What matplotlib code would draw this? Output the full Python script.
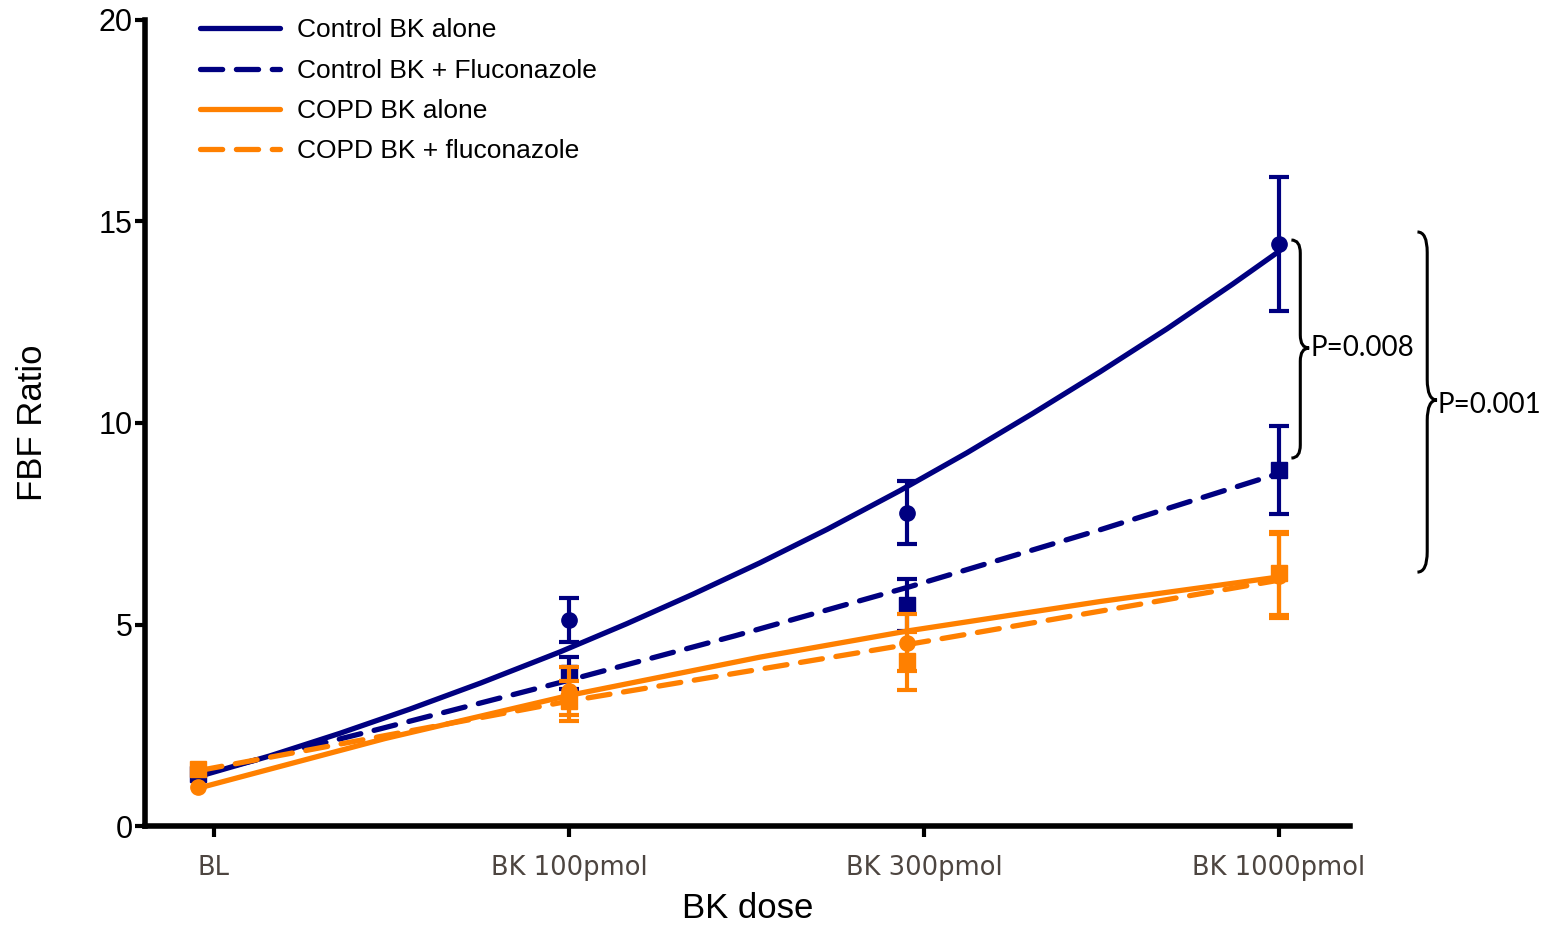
import numpy as np
import matplotlib.pyplot as plt
from matplotlib.path import Path
from matplotlib.patches import PathPatch

plt.rcParams['font.family'] = ['Liberation Sans', 'DejaVu Sans']

doses = ["BL", "BK 100pmol", "BK 300pmol", "BK 1000pmol"]
tick_x = [0, 1, 2, 3]
# the points in the source sit a little left of the BL and 300 ticks
dose_x = [-0.045, 1.0, 1.952, 3.0]

ctrl_alone = [1.25, 5.11, 7.77, 14.44]
ctrl_alone_sem = [0.0, 0.55, 0.78, 1.66]
ctrl_fluc = [1.30, 3.80, 5.48, 8.83]
ctrl_fluc_sem = [0.0, 0.40, 0.65, 1.10]
copd_alone = [0.97, 3.35, 4.55, 6.20]
copd_alone_sem = [0.0, 0.60, 0.70, 1.05]
copd_fluc = [1.41, 3.10, 4.10, 6.27]
copd_fluc_sem = [0.0, 0.50, 0.72, 1.03]

# fitted curves (x in tick units)
fit_x_ctrl_alone = [-0.039, 0.158, 0.355, 0.552, 0.752, 0.975, 1.163, 1.349,
                    1.538, 1.727, 1.932, 2.121, 2.307, 2.496, 2.685, 2.870, 3.0]
fit_ctrl_alone = [1.24, 1.74, 2.30, 2.90, 3.55, 4.32, 5.02, 5.75,
                  6.53, 7.36, 8.32, 9.26, 10.24, 11.27, 12.34, 13.45, 14.26]
fit_x_ctrl_fluc = [-0.039, 0.468, 0.975, 1.468, 1.961, 2.496, 3.0]
fit_ctrl_fluc = [1.29, 2.41, 3.56, 4.72, 5.94, 7.35, 8.75]
fit_x_copd_alone = [-0.039, 0.482, 1.0, 1.538, 1.961, 2.496, 3.0]
fit_copd_alone = [0.95, 2.17, 3.24, 4.19, 4.85, 5.57, 6.18]
fit_x_copd_fluc = [-0.039, 1.0, 1.952, 3.0]
fit_copd_fluc = [1.38, 3.10, 4.50, 6.10]

p_labels = ["P=0.008", "P=0.001"]

navy = '#000080'
orange = '#ff8000'
lw = 3.8

fig = plt.figure(figsize=(15.49, 9.26), dpi=100)
ax = fig.add_axes([145/1549, 100/926, 1205/1549, 806/926])

series = [
    (fit_x_ctrl_alone, fit_ctrl_alone, ctrl_alone, ctrl_alone_sem, navy, '-', 'o', "Control BK alone"),
    (fit_x_ctrl_fluc, fit_ctrl_fluc, ctrl_fluc, ctrl_fluc_sem, navy, '--', 's', "Control BK + Fluconazole"),
    (fit_x_copd_alone, fit_copd_alone, copd_alone, copd_alone_sem, orange, '-', 'o', "COPD BK alone"),
    (fit_x_copd_fluc, fit_copd_fluc, copd_fluc, copd_fluc_sem, orange, '--', 's', "COPD BK + fluconazole"),
]

z = 2
for fx, fit, vals, sem, col, ls, mk, lab in series:
    ln, = ax.plot(fx, fit, color=col, lw=lw, ls=ls, label=lab, zorder=z,
                  solid_capstyle='round', dash_capstyle='round',
                  solid_joinstyle='round')
    if ls == '--':
        ln.set_dashes((4.2, 2.6))
    ax.errorbar(dose_x[1:], vals[1:], yerr=sem[1:], fmt='none', ecolor=col,
                elinewidth=3, capsize=7, capthick=3, zorder=z)
    ax.plot(dose_x, vals, ls='none', marker=mk, color=col, ms=11, zorder=z + 0.5)
    z += 1

ax.set_xlim(-0.194, 3.2)
ax.set_ylim(0, 20)
ax.set_xticks(tick_x)
ax.set_xticklabels(doses, fontsize=18.5, color='#4d4540', family='DejaVu Sans')
ax.set_yticks([0, 5, 10, 15, 20])
ax.tick_params(axis='y', labelsize=22, width=3, length=7, pad=2)
ax.tick_params(axis='x', width=3, length=8, pad=13)

for s in ['top', 'right']:
    ax.spines[s].set_visible(False)
for s in ['left', 'bottom']:
    ax.spines[s].set_linewidth(4)

ax.set_xlabel("BK dose", fontsize=25)
ax.xaxis.set_label_coords(0.5, -0.082)
ax.set_ylabel("FBF Ratio", fontsize=25)
ax.yaxis.set_label_coords(-0.08, 0.5)

ax.legend(loc='upper left', bbox_to_anchor=(0.046, 1.002), frameon=False,
          fontsize=19, handlelength=3.0, handletextpad=0.65, labelspacing=0.62,
          borderpad=0, borderaxespad=0)


def brace(ax, x0, x1, y_lo, y_hi, y_tip):
    xm = (x0 + x1) / 2
    d = (y_hi - y_lo) * 0.06
    verts = [(x0, y_hi), (xm, y_hi), (xm, y_hi - d), (xm, y_tip + d),
             (xm, y_tip), (x1, y_tip), (xm, y_tip), (xm, y_tip - d),
             (xm, y_lo + d), (xm, y_lo), (x0, y_lo)]
    codes = [Path.MOVETO, Path.CURVE3, Path.CURVE3, Path.LINETO,
             Path.CURVE3, Path.CURVE3, Path.CURVE3, Path.CURVE3,
             Path.LINETO, Path.CURVE3, Path.CURVE3]
    ax.add_patch(PathPatch(Path(verts, codes), fill=False, lw=2.2, color='black',
                           clip_on=False))


brace(ax, 3.035, 3.085, 9.13, 14.54, 11.86)
ax.text(3.088, 11.86, p_labels[0], fontsize=20, family='Lato', va='center',
        ha='left', clip_on=False)
brace(ax, 3.39, 3.445, 6.30, 14.74, 10.57)
ax.text(3.446, 10.45, p_labels[1], fontsize=20, family='Lato', va='center',
        ha='left', clip_on=False)

fig.savefig('out.png', dpi=100)
